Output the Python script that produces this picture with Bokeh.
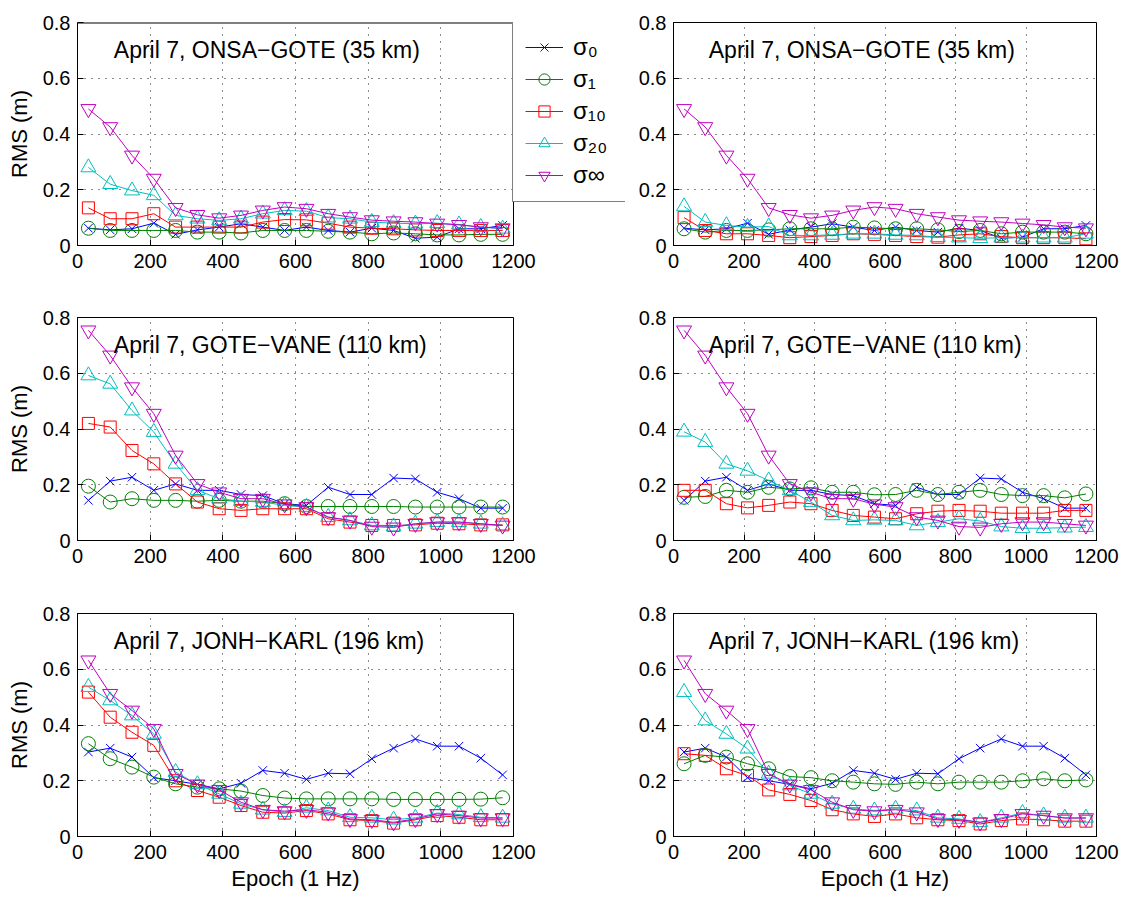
from bokeh.plotting import figure
from bokeh.layouts import column, row
from bokeh.models import FixedTicker, Label, Legend, LegendItem, Range1d, Span
from bokeh.embed import file_html
from bokeh.resources import INLINE

epoch = [30, 90, 150, 210, 270, 330, 390, 450, 510, 570, 630, 690, 750, 810, 870, 930, 990, 1050, 1110, 1170]
x_ticks = [0, 200, 400, 600, 800, 1000, 1200]
y_ticks = [0, 0.2, 0.4, 0.6, 0.8]
y_tick_labels = ["0", "0.2", "0.4", "0.6", "0.8"]
X_MAX = 1200
Y_MAX = 0.8

titles = ["April 7, ONSA\u2212GOTE (35 km)", "April 7, GOTE\u2212VANE (110 km)", "April 7, JONH\u2212KARL (196 km)"]
series_names = ["\u03c3\u2080", "\u03c3\u2081", "\u03c3\u2081\u2080", "\u03c3\u2082\u2080", "\u03c3\u221e"]

# Row 1: ONSA-GOTE
onsa_s0 = [0.062, 0.056, 0.060, 0.080, 0.040, 0.056, 0.066, 0.078, 0.066, 0.054, 0.066, 0.054, 0.048, 0.062, 0.054, 0.026, 0.030, 0.060, 0.060, 0.072]
onsa_sinf = [0.49, 0.425, 0.323, 0.24, 0.135, 0.11, 0.098, 0.108, 0.126, 0.138, 0.132, 0.114, 0.102, 0.091, 0.087, 0.084, 0.079, 0.074, 0.066, 0.062]
onsa_L_s1 = [0.062, 0.054, 0.054, 0.054, 0.054, 0.048, 0.048, 0.045, 0.054, 0.054, 0.054, 0.051, 0.048, 0.042, 0.045, 0.042, 0.038, 0.038, 0.040, 0.040]
onsa_L_s10 = [0.135, 0.096, 0.096, 0.114, 0.066, 0.066, 0.066, 0.066, 0.084, 0.093, 0.092, 0.080, 0.066, 0.062, 0.060, 0.056, 0.054, 0.054, 0.054, 0.054]
onsa_L_s20 = [0.28, 0.22, 0.197, 0.18, 0.108, 0.096, 0.09, 0.096, 0.114, 0.126, 0.123, 0.10, 0.096, 0.084, 0.08, 0.078, 0.08, 0.075, 0.066, 0.06]
onsa_R_s1 = [0.06, 0.048, 0.054, 0.054, 0.056, 0.06, 0.06, 0.06, 0.066, 0.063, 0.06, 0.06, 0.056, 0.05, 0.054, 0.042, 0.048, 0.048, 0.048, 0.042]
onsa_R_s10 = [0.10, 0.054, 0.042, 0.042, 0.036, 0.028, 0.032, 0.036, 0.042, 0.04, 0.036, 0.032, 0.03, 0.038, 0.042, 0.032, 0.028, 0.028, 0.028, 0.024]
onsa_R_s20 = [0.14, 0.084, 0.072, 0.066, 0.068, 0.036, 0.036, 0.038, 0.042, 0.042, 0.038, 0.036, 0.03, 0.028, 0.026, 0.028, 0.028, 0.028, 0.028, 0.042]

# Row 2: GOTE-VANE
gote_s0 = [0.144, 0.213, 0.227, 0.18, 0.203, 0.18, 0.18, 0.165, 0.161, 0.132, 0.126, 0.191, 0.165, 0.165, 0.224, 0.221, 0.173, 0.15, 0.116, 0.116]
gote_sinf = [0.754, 0.664, 0.55, 0.455, 0.305, 0.203, 0.173, 0.15, 0.15, 0.13, 0.12, 0.084, 0.072, 0.05, 0.047, 0.06, 0.066, 0.066, 0.06, 0.054]
gote_L_s1 = [0.195, 0.138, 0.15, 0.144, 0.144, 0.141, 0.144, 0.141, 0.141, 0.132, 0.122, 0.122, 0.122, 0.122, 0.122, 0.12, 0.12, 0.12, 0.12, 0.12]
gote_L_s10 = [0.42, 0.407, 0.323, 0.275, 0.203, 0.138, 0.114, 0.108, 0.114, 0.114, 0.114, 0.078, 0.066, 0.054, 0.054, 0.056, 0.062, 0.06, 0.056, 0.056]
gote_L_s20 = [0.592, 0.562, 0.466, 0.389, 0.275, 0.18, 0.15, 0.141, 0.138, 0.126, 0.12, 0.084, 0.072, 0.054, 0.05, 0.06, 0.066, 0.066, 0.06, 0.054]
gote_R_s1 = [0.155, 0.158, 0.18, 0.173, 0.191, 0.185, 0.189, 0.173, 0.173, 0.164, 0.165, 0.18, 0.165, 0.173, 0.18, 0.165, 0.161, 0.161, 0.153, 0.167]
gote_R_s10 = [0.18, 0.18, 0.132, 0.117, 0.126, 0.138, 0.132, 0.108, 0.09, 0.084, 0.078, 0.096, 0.105, 0.108, 0.105, 0.098, 0.098, 0.098, 0.108, 0.108]
gote_R_s20 = [0.39, 0.353, 0.275, 0.25, 0.215, 0.18, 0.138, 0.09, 0.072, 0.074, 0.072, 0.054, 0.066, 0.078, 0.07, 0.05, 0.044, 0.044, 0.046, 0.048]

# Row 3: JONH-KARL
jonh_s0 = [0.303, 0.317, 0.285, 0.211, 0.2, 0.187, 0.171, 0.191, 0.237, 0.227, 0.205, 0.227, 0.225, 0.279, 0.317, 0.35, 0.324, 0.324, 0.281, 0.221]
jonh_sinf = [0.632, 0.512, 0.452, 0.386, 0.225, 0.187, 0.167, 0.123, 0.096, 0.091, 0.096, 0.087, 0.063, 0.06, 0.051, 0.063, 0.081, 0.075, 0.066, 0.066]
jonh_L_s1 = [0.333, 0.279, 0.249, 0.213, 0.189, 0.177, 0.171, 0.163, 0.147, 0.138, 0.135, 0.135, 0.135, 0.135, 0.133, 0.133, 0.133, 0.133, 0.134, 0.139]
jonh_L_s10 = [0.518, 0.428, 0.374, 0.327, 0.2, 0.165, 0.141, 0.111, 0.087, 0.084, 0.093, 0.081, 0.06, 0.057, 0.048, 0.06, 0.075, 0.069, 0.06, 0.06]
jonh_L_s20 = [0.536, 0.488, 0.434, 0.368, 0.231, 0.187, 0.153, 0.117, 0.096, 0.087, 0.103, 0.093, 0.069, 0.067, 0.06, 0.067, 0.084, 0.079, 0.069, 0.067]
jonh_R_s1 = [0.261, 0.291, 0.285, 0.261, 0.243, 0.215, 0.211, 0.2, 0.195, 0.189, 0.187, 0.195, 0.189, 0.195, 0.195, 0.195, 0.2, 0.207, 0.2, 0.203]
jonh_R_s10 = [0.297, 0.291, 0.243, 0.219, 0.167, 0.151, 0.129, 0.096, 0.081, 0.072, 0.081, 0.067, 0.06, 0.057, 0.045, 0.057, 0.063, 0.06, 0.055, 0.055]
jonh_R_s20 = [0.518, 0.416, 0.368, 0.315, 0.225, 0.183, 0.153, 0.117, 0.099, 0.093, 0.099, 0.093, 0.067, 0.063, 0.051, 0.067, 0.084, 0.075, 0.067, 0.067]

colors = ["#0000FF", "#008000", "#FF0000", "#00BFBF", "#BF00BF"]
markers = ["x", "circle", "square", "triangle", "inverted_triangle"]
msizes = [12, 14, 12, 15, 15]

FONT = "Liberation Sans"

panels = [
    [(onsa_s0, onsa_L_s1, onsa_L_s10, onsa_L_s20, onsa_sinf), (onsa_s0, onsa_R_s1, onsa_R_s10, onsa_R_s20, onsa_sinf)],
    [(gote_s0, gote_L_s1, gote_L_s10, gote_L_s20, gote_sinf), (gote_s0, gote_R_s1, gote_R_s10, gote_R_s20, gote_sinf)],
    [(jonh_s0, jonh_L_s1, jonh_L_s10, jonh_L_s20, jonh_sinf), (jonh_s0, jonh_R_s1, jonh_R_s10, jonh_R_s20, jonh_sinf)],
]

borders_top = [22, 36, 37]
borders_bottom = [36, 36, 62]
FRAME_H = 223
LEG_EXTRA = 112  # room at the right of the top-left box for the legend


def style_axis(ax):
    ax.major_tick_in = 6
    ax.major_tick_out = 0
    ax.minor_tick_line_color = None
    ax.axis_line_color = "black"
    ax.major_tick_line_color = "black"
    ax.major_label_text_font = FONT
    ax.major_label_text_font_size = "20px"
    ax.major_label_text_color = "black"
    ax.axis_label_text_font = FONT
    ax.axis_label_text_font_size = "22px"
    ax.axis_label_text_font_style = "normal"
    ax.axis_label_text_color = "black"


def make_panel(r, c, data):
    left = c == 0
    with_legend = (r == 0 and c == 0)
    fw = 436 if left else 423
    if with_legend:
        frame_w = fw + LEG_EXTRA
        x_end = X_MAX * frame_w / fw
        br = 0
    else:
        frame_w = fw
        x_end = X_MAX
        br = 112 if left else 40
    p = figure(frame_width=frame_w, frame_height=FRAME_H, output_backend="svg", toolbar_location=None,
               x_range=Range1d(0, x_end), y_range=Range1d(0, Y_MAX),
               min_border_left=77 if left else 48, min_border_right=br,
               min_border_top=borders_top[r], min_border_bottom=borders_bottom[r])
    p.outline_line_color = None if with_legend else "black"
    p.outline_line_width = 1
    p.background_fill_color = "white"
    p.border_fill_color = "white"

    style_axis(p.xaxis[0])
    style_axis(p.yaxis[0])
    p.xaxis.ticker = FixedTicker(ticks=x_ticks)
    p.yaxis.ticker = FixedTicker(ticks=y_ticks)
    p.xaxis.bounds = (0, X_MAX)
    p.yaxis.major_label_overrides = {t: s for t, s in zip(y_ticks, y_tick_labels)}
    p.xaxis.major_label_standoff = 8
    p.yaxis.major_label_standoff = 7
    if left:
        p.yaxis.axis_label = "RMS (m)"
        p.yaxis.axis_label_standoff = 8
    if r == 2:
        p.xaxis.axis_label = "Epoch (1 Hz)"
        p.xaxis.axis_label_standoff = 4

    p.xgrid.ticker = FixedTicker(ticks=x_ticks)
    p.ygrid.ticker = FixedTicker(ticks=y_ticks)
    for g in (p.xgrid[0], p.ygrid[0]):
        g.grid_line_color = "black"
        g.grid_line_dash = "1 6"
        g.grid_line_width = 1
        g.grid_line_alpha = 0.9

    if with_legend:
        p.add_layout(Span(location=X_MAX, dimension="height", line_color="black", line_width=1))
        p.add_layout(Span(location=Y_MAX, dimension="width", line_color="black", line_width=2))

    items = []
    for k in range(5):
        ln = p.line(epoch, data[k], line_color=colors[k], line_width=1)
        sc = p.scatter(epoch, data[k], marker=markers[k], size=msizes[k], line_color=colors[k],
                       fill_alpha=0, line_width=1)
        items.append(LegendItem(label=series_names[k], renderers=[ln, sc]))

    p.add_layout(Label(x=100, y=0.70, text=titles[r], text_font=FONT, text_font_size="23px",
                       text_baseline="middle", text_align="left", text_color="black"))

    if with_legend:
        leg = Legend(items=items, location=(fw - 1, 43), orientation="vertical")
        leg.border_line_color = "black"
        leg.border_line_width = 1
        leg.background_fill_color = "white"
        leg.background_fill_alpha = 1
        leg.label_text_font = FONT
        leg.label_text_font_size = "24px"
        leg.label_text_color = "black"
        leg.glyph_height = 28
        leg.glyph_width = 38
        leg.label_height = 28
        leg.label_width = 46
        leg.spacing = 4
        leg.padding = 12
        leg.margin = 0
        leg.label_standoff = 10
        p.add_layout(leg, "center")
    return p


rows = []
for r in range(3):
    rows.append(row(make_panel(r, 0, panels[r][0]), make_panel(r, 1, panels[r][1])))
layout = column(*rows)

open("out.html", "w").write(file_html(layout, INLINE))
